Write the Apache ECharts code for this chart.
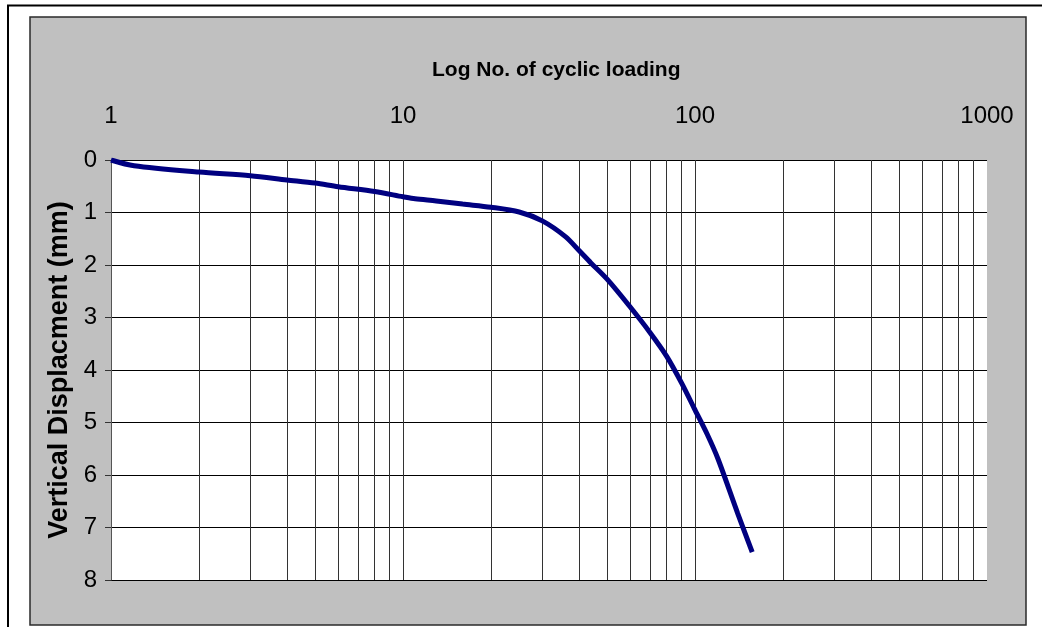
<!DOCTYPE html>
<html>
<head>
<meta charset="utf-8">
<script src="https://cdn.jsdelivr.net/npm/echarts@6/dist/echarts.min.js"></script>
<style>
html,body{margin:0;padding:0;background:#fff;}
#chart{width:1042px;height:627px;}
</style>
</head>
<body>
<div id="chart"></div>
<script>
// ---- data ----
const cycles = [1, 1.2, 2, 3, 4, 5, 6, 8, 10, 11, 13, 16, 20, 25, 30, 36, 40, 44, 50, 60, 70, 80, 90, 100, 110, 120, 140, 157];
const displacement = [0, 0.11, 0.23, 0.30, 0.38, 0.44, 0.51, 0.60, 0.70, 0.74, 0.78, 0.84, 0.90, 0.99, 1.16, 1.46, 1.72, 1.96, 2.27, 2.80, 3.28, 3.74, 4.25, 4.76, 5.22, 5.70, 6.73, 7.47];
const xGridValues = [2,3,4,5,6,7,8,9,10,20,30,40,50,60,70,80,90,100,200,300,400,500,600,700,800,900];
const xTickLabels = ['1','10','100','1000'];
const yTicks = [0,1,2,3,4,5,6,7,8];

const chart = echarts.init(document.getElementById('chart'), null, {renderer:'canvas'});
const sans = '"Liberation Sans", Arial, sans-serif';

chart.setOption({
  animation: false,
  backgroundColor: '#fff',
  graphic: [
    {type:'rect', z:-100, silent:true, shape:{x:30, y:17, width:996, height:608}, style:{fill:'#c0c0c0', stroke:'#2a2a2a', lineWidth:1.5}},
    {type:'polyline', z:-90, silent:true, shape:{points:[[8,640],[8,5.5],[1050,5.5]]}, style:{fill:null, stroke:'#000', lineWidth:2}}
  ],
  title: {
    text: 'Log No. of cyclic loading',
    left: 427,
    top: 55,
    textStyle: {fontFamily: sans, fontWeight: 'bold', fontSize: 21, color: '#000'}
  },
  grid: {left:111, top:160, right:55, bottom:47, show:true, backgroundColor:'#fff', borderWidth:0, containLabel:false},
  xAxis: {
    type: 'log', logBase: 10, min: 1, max: 1000, position: 'top',
    axisLine: {show:false},
    axisTick: {show:false},
    splitLine: {show:false},
    axisLabel: {margin: 32, fontFamily: sans, fontSize: 24, color:'#000',
      formatter: function(v){ const s = String(Math.round(v)); return xTickLabels.indexOf(s) >= 0 ? s : ''; }}
  },
  yAxis: {
    type: 'value', inverse: true, min: 0, max: 8, interval: 1,
    name: 'Vertical Displacment (mm)', nameLocation: 'middle', nameGap: 37, nameRotate: 90,
    nameTextStyle: {fontFamily: sans, fontWeight:'bold', fontSize: 27, color:'#000'},
    axisLine: {show:true, lineStyle:{color:'#555', width:1}},
    axisTick: {show:true, length:6, lineStyle:{color:'#333'}},
    axisLabel: {margin: 14, fontFamily: sans, fontSize: 24, color:'#000',
      formatter: function(v){ return yTicks.indexOf(v) >= 0 ? String(v) : ''; }},
    splitLine: {show:true, lineStyle:{color:'#000', width:1}}
  },
  series: [
    {
      type: 'line', data: [], z: 1, silent: true,
      markLine: {
        silent: true, symbol: 'none', z: 1, animation: false,
        label: {show:false},
        lineStyle: {type:'solid', color:'#333', width:1},
        emphasis: {disabled:true},
        data: xGridValues.map(v => ({xAxis: v}))
      }
    },
    {
      type: 'line', z: 10, symbol: 'none', smooth: 0.3,
      lineStyle: {color:'#000080', width:5},
      data: cycles.map((c,i) => [c, displacement[i]])
    }
  ]
});
</script>
</body>
</html>
